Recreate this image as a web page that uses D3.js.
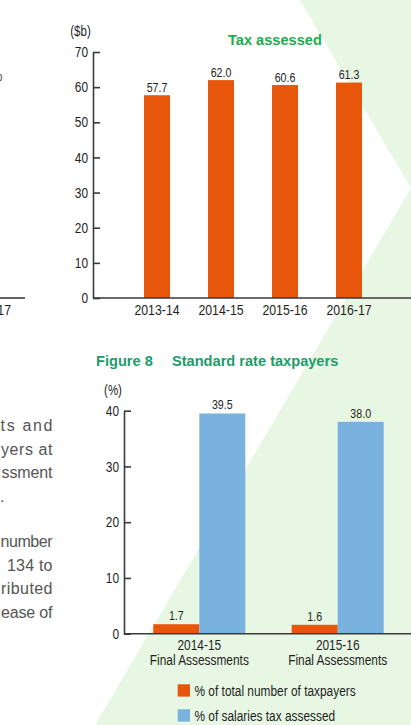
<!DOCTYPE html>
<html>
<head>
<meta charset="utf-8">
<script src="https://cdn.jsdelivr.net/npm/d3@7/dist/d3.min.js"></script>
<style>
  html, body { margin: 0; padding: 0; background: #fff; }
  svg { display: block; }
</style>
</head>
<body>
<svg id="chart" width="411" height="725"></svg>
<script>
// ---------- DATA ----------
const taxYears = ["2013-14", "2014-15", "2015-16", "2016-17"];
const taxValues = [57.7, 62.0, 60.6, 61.3];
const taxTicks = [0, 10, 20, 30, 40, 50, 60, 70];

const stdYears = ["2014-15", "2015-16"];
const stdSubLabel = "Final Assessments";
const seriesNames = ["% of total number of taxpayers", "% of salaries tax assessed"];
const pctTaxpayers = [1.7, 1.6];
const pctSalariesTax = [39.5, 38.0];
const stdTicks = [0, 10, 20, 30, 40];

const paraLines = ["ts and", "yers at", "ssment", "s.", "number", "134 to", "ributed", "ease of"];

// ---------- STYLE ----------
const SANS = "'Liberation Sans', Arial, sans-serif";
const SQUEEZE = 0.82;             // condensed look via horizontal scaling
const ORANGE = "#e8560b";
const BLUE = "#7ab2df";
const AXIS = "#3a3a3a";
const INK = "#1e1e1e";

const svg = d3.select("#chart");

function narrow(parent, x, y, size, anchor, txt) {
  return parent.append("text")
    .attr("transform", `translate(${x},${y}) scale(${SQUEEZE},1)`)
    .attr("text-anchor", anchor).attr("font-family", SANS).attr("font-size", size)
    .attr("fill", INK).text(txt);
}

// background chevron
svg.append("polygon").attr("points", "300,0 411,0 411,188").attr("fill", "#e8f7e4");
svg.append("polygon").attr("points", "411,188 411,725 95,725").attr("fill", "#e8f7e4");

// left paragraph fragments (body text cut by the left edge, justified)
const para = svg.append("g").attr("font-family", SANS).attr("font-size", 16).attr("fill", "#555");
const paraBase = [431, 454.5, 478, 501.5, 547, 570.5, 594, 617.5];
const paraLeft = [0.5, 1, 1.5, null, 0.5, 7, 1, 1];
paraLines.forEach((t, i) => {
  const el = para.append("text").attr("y", paraBase[i]).text(t);
  if (paraLeft[i] === null) {
    el.attr("x", 4.5).attr("text-anchor", "end");
  } else {
    el.attr("x", paraLeft[i]).attr("textLength", 52.5 - paraLeft[i]).attr("lengthAdjust", "spacing");
  }
});

// left chart fragments
svg.append("line").attr("x1", 0).attr("x2", 25).attr("y1", 298).attr("y2", 298)
  .attr("stroke", AXIS).attr("stroke-width", 1.6);
narrow(svg, 11, 315, 15, "end", "2016-17");
narrow(svg, 2.5, 81, 13, "end", "o").attr("fill", "#444");

// ---------- TOP CHART: Tax assessed ----------
const xTop = d3.scaleBand().domain(taxYears).range([125, 381]).paddingInner(0.594).paddingOuter(0.297);
const yTop = d3.scaleLinear().domain([0, 70]).range([298, 52]);
const topG = svg.append("g");

topG.selectAll("rect.bar").data(taxValues).join("rect")
  .attr("x", (d, i) => xTop(taxYears[i])).attr("width", xTop.bandwidth())
  .attr("y", d => yTop(d)).attr("height", d => yTop(0) - yTop(d)).attr("fill", ORANGE);

taxValues.forEach((v, i) => {
  narrow(topG, xTop(taxYears[i]) + xTop.bandwidth() / 2, yTop(v) - 3.5, 13, "middle", v.toFixed(1));
});

const yAxisTop = topG.append("g").attr("transform", "translate(93,0)")
  .call(d3.axisLeft(yTop).tickValues(taxTicks).tickSize(-7).tickSizeOuter(0).tickPadding(5));
yAxisTop.select(".domain").attr("stroke", AXIS).attr("stroke-width", 1.6);
yAxisTop.selectAll(".tick line").attr("stroke", AXIS).attr("stroke-width", 1.6);
yAxisTop.selectAll(".tick text").attr("font-family", SANS).attr("font-size", 14.5).attr("fill", INK)
  .attr("x", -5 / SQUEEZE).attr("transform", `scale(${SQUEEZE},1)`);

topG.append("line").attr("x1", 93).attr("x2", 411).attr("y1", yTop(0)).attr("y2", yTop(0))
  .attr("stroke", AXIS).attr("stroke-width", 1.6);

taxYears.forEach(d => narrow(topG, xTop(d) + xTop.bandwidth() / 2, 315, 15, "middle", d));

narrow(topG, 80.5, 35.5, 14, "middle", "($b)");
topG.append("text").attr("x", 228).attr("y", 45)
  .attr("font-family", SANS).attr("font-weight", "bold").attr("font-size", 14.6).attr("fill", "#1fab4e")
  .text("Tax assessed");

// ---------- BOTTOM CHART: Figure 8 ----------
const x0 = d3.scaleBand().domain(stdYears).range([130.1, 406.9]).paddingInner(0.335).paddingOuter(0.1675);
const x1 = d3.scaleBand().domain(seriesNames).range([0, x0.bandwidth()]).padding(0);
const yBot = d3.scaleLinear().domain([0, 40]).range([633.7, 410.7]);
const colors = d3.scaleOrdinal().domain(seriesNames).range([ORANGE, BLUE]);
const seriesValues = [pctTaxpayers, pctSalariesTax];
const bot = svg.append("g");

const groups = bot.selectAll("g.grp").data(stdYears).join("g")
  .attr("transform", d => `translate(${x0(d)},0)`);
groups.each(function (yr, gi) {
  const g = d3.select(this);
  seriesNames.forEach((s, si) => {
    const v = seriesValues[si][gi];
    g.append("rect").attr("x", x1(s)).attr("width", x1.bandwidth())
      .attr("y", yBot(v)).attr("height", yBot(0) - yBot(v)).attr("fill", colors(s));
    narrow(g, x1(s) + x1.bandwidth() / 2, yBot(v) - 4, 13, "middle", v.toFixed(1));
  });
});

const yAxisBot = bot.append("g").attr("transform", "translate(124,0)")
  .call(d3.axisLeft(yBot).tickValues(stdTicks).tickSize(-7).tickSizeOuter(0).tickPadding(5));
yAxisBot.select(".domain").attr("stroke", AXIS).attr("stroke-width", 1.6);
yAxisBot.selectAll(".tick line").attr("stroke", AXIS).attr("stroke-width", 1.6);
yAxisBot.selectAll(".tick text").attr("font-family", SANS).attr("font-size", 14.5).attr("fill", INK)
  .attr("x", -5 / SQUEEZE).attr("transform", `scale(${SQUEEZE},1)`);

bot.append("line").attr("x1", 124).attr("x2", 411).attr("y1", yBot(0)).attr("y2", yBot(0))
  .attr("stroke", AXIS).attr("stroke-width", 1.6);

stdYears.forEach(d => {
  const cx = x0(d) + x0.bandwidth() / 2;
  narrow(bot, cx, 649.5, 14.5, "middle", d);
  narrow(bot, cx, 665, 14.5, "middle", stdSubLabel);
});

narrow(bot, 113, 394.5, 14, "middle", "(%)");

const title = bot.append("text").attr("y", 366)
  .attr("font-family", SANS).attr("font-weight", "bold").attr("font-size", 14.6).attr("fill", "#1b9d6b");
title.append("tspan").attr("x", 96).text("Figure 8");
title.append("tspan").attr("x", 172).text("Standard rate taxpayers");

// legend
seriesNames.forEach((s, i) => {
  const ly = 684.3 + i * 25;
  bot.append("rect").attr("x", 177.7).attr("y", ly).attr("width", 12.3).attr("height", 12.3).attr("fill", colors(s));
  narrow(bot, 194.5, ly + 11.3, 14.5, "start", s);
});
</script>
</body>
</html>
